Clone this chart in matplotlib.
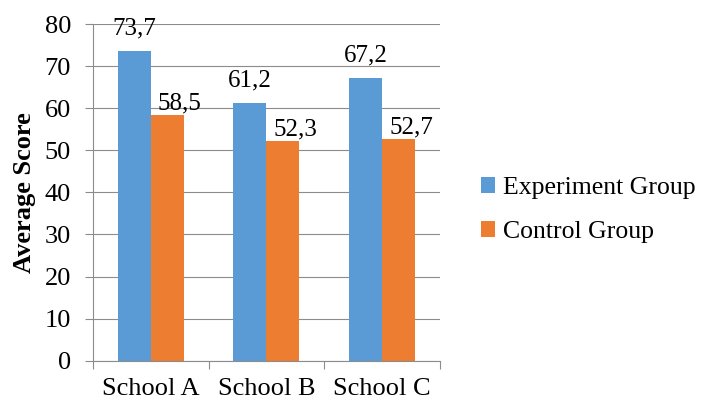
import numpy as np
import matplotlib
matplotlib.use("Agg")
from matplotlib import pyplot as plt

plt.rcParams['font.family'] = ['Liberation Serif', 'DejaVu Serif']

# 数据
schools = ['School A', 'School B', 'School C']
experiment = [73.7, 61.2, 67.2]
control = [58.5, 52.3, 52.7]
series_names = ['Experiment Group', 'Control Group']
colors = ['#5B9BD5', '#ED7D31']

fig = plt.figure(figsize=(7.02, 4.03), dpi=100)
ax = fig.add_axes([0.1325, 0.105, 0.494, 0.835])

x = np.arange(len(schools))
w = 0.285
b1 = ax.bar(x - w / 2, experiment, w, color=colors[0], label=series_names[0], zorder=2)
b2 = ax.bar(x + w / 2, control, w, color=colors[1], label=series_names[1], zorder=2)

# 数据标签（逗号作小数点），偏移量仿照原图
for bars, vals, off in ((b1, experiment, (0, 12)), (b2, control, (9, 4))):
    for rect, v in zip(bars, vals):
        ax.annotate(f'{v:.1f}'.replace('.', ','),
                    (rect.get_x() + rect.get_width() / 2, rect.get_height()),
                    xytext=off, textcoords='offset points',
                    ha='center', va='baseline', fontsize=18)

ax.set_xlim(-0.5, len(schools) - 0.5)
ax.set_ylim(0, 80)
ax.set_yticks(range(0, 81, 10))
ax.yaxis.grid(True, color='#8c8c8c', linewidth=0.8, zorder=0)
ax.set_axisbelow(True)

# x轴：分隔刻度在类别边界，标签在中心
ax.set_xticks(np.arange(-0.5, len(schools), 1))
ax.set_xticklabels([])
ax.set_xticks(x, minor=True)
ax.set_xticklabels(schools, minor=True)
ax.tick_params(axis='x', which='major', length=5.5, color='#8c8c8c', direction='out')
ax.tick_params(axis='x', which='minor', length=0, pad=12.5, labelsize=19)
ax.tick_params(axis='y', length=5.8, color='#8c8c8c', labelsize=19, pad=10)

for s in ('top', 'right'):
    ax.spines[s].set_visible(False)
for s in ('left', 'bottom'):
    ax.spines[s].set_color('#8c8c8c')
    ax.spines[s].set_linewidth(0.8)

ax.set_ylabel('Average Score', fontsize=19, fontweight='bold', labelpad=6)

fig.legend(loc='center left', bbox_to_anchor=(0.652, 0.479), frameon=False,
           fontsize=18.5, handlelength=0.55, handleheight=0.55, handletextpad=0.3,
           labelspacing=0.85)

fig.savefig('out.png', dpi=100)
